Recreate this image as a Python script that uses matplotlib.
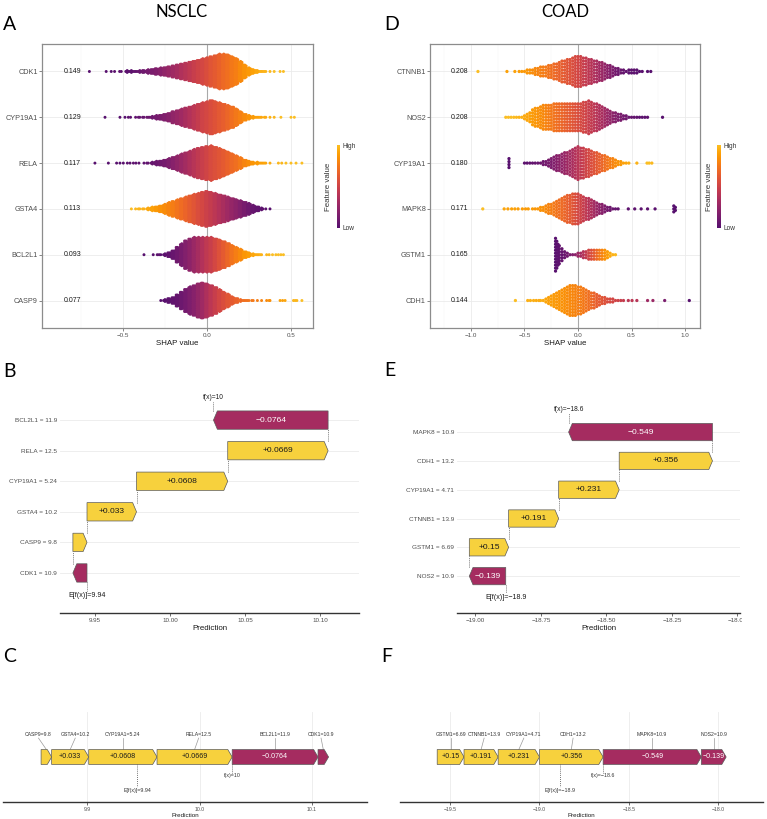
import numpy as np
import matplotlib
matplotlib.use("Agg")
import matplotlib.pyplot as plt
from matplotlib.colors import LinearSegmentedColormap
from matplotlib.patches import Polygon
from matplotlib.transforms import Bbox

plt.rcParams["font.family"] = ["Liberation Sans", "DejaVu Sans"]

# ---------------- beeswarm data ----------------
# per gene: centre of first 0.025-wide SHAP bin, number of samples per bin,
# mean scaled feature value per bin, isolated points as (shap, scaled feature value)
nsclc_genes = ["CDK1", "CYP19A1", "RELA", "GSTA4", "BCL2L1", "CASP9"]
nsclc_imp = ["0.149", "0.129", "0.117", "0.113", "0.093", "0.077"]

cdk1_a = dict(start=-0.475,
              counts=[4, 4, 3, 4, 5, 7, 9, 11, 13, 15, 17, 20, 23, 26, 29, 33, 36, 39, 43, 46, 50, 54,
                      58, 58, 56, 50, 44, 34, 23, 13, 8, 5, 3, 2, 1],
              fv=[0.02, 0.035, 0.05, 0.075, 0.1, 0.125, 0.15, 0.175, 0.2, 0.235, 0.27, 0.3, 0.33, 0.365,
                  0.4, 0.435, 0.47, 0.5, 0.53, 0.565, 0.6, 0.63, 0.66, 0.69, 0.72, 0.75, 0.78, 0.815,
                  0.85, 0.875, 0.9, 0.925, 0.95, 0.965, 0.98],
              out=[(-0.70, 0), (-0.60, 0), (-0.57, 0), (-0.55, 0.02), (-0.52, 0.02), (-0.51, 0.02),
                   (0.40, 1), (0.435, 1), (0.455, 1)])
cyp19a1_a = dict(start=-0.425,
                 counts=[1, 2, 2, 3, 4, 7, 9, 12, 15, 20, 24, 28, 32, 36, 40, 45, 49, 52, 57, 53, 49, 45,
                         40, 36, 29, 20, 12, 7, 4, 3, 2, 2, 1, 1],
                 fv=[0.04, 0.05, 0.06, 0.08, 0.1, 0.125, 0.15, 0.175, 0.2, 0.235, 0.27, 0.305, 0.34, 0.38,
                     0.42, 0.46, 0.5, 0.53, 0.56, 0.59, 0.62, 0.65, 0.68, 0.715, 0.75, 0.785, 0.82, 0.85,
                     0.88, 0.9, 0.92, 0.935, 0.95, 0.97],
                 out=[(-0.607, 0), (-0.518, 0), (-0.488, 0), (-0.468, 0.02), (-0.455, 0.02),
                      (0.44, 1), (0.50, 1), (0.52, 1)])
rela_a = dict(start=-0.375,
              counts=[1, 2, 4, 7, 9, 12, 16, 21, 25, 31, 36, 40, 46, 50, 53, 56, 58, 54, 49, 44, 38, 32,
                      25, 19, 12, 8, 5, 4, 3, 2, 1],
              fv=[0.03, 0.045, 0.06, 0.08, 0.1, 0.13, 0.16, 0.2, 0.24, 0.28, 0.32, 0.36, 0.4, 0.44, 0.48,
                  0.515, 0.55, 0.575, 0.6, 0.63, 0.66, 0.69, 0.72, 0.76, 0.8, 0.83, 0.86, 0.88, 0.9, 0.92, 0.94],
              out=[(-0.667, 0), (-0.587, 0), (-0.538, 0), (-0.518, 0), (-0.498, 0), (-0.474, 0.02),
                   (-0.458, 0.02), (-0.438, 0.02), (-0.423, 0.03), (-0.405, 0.03),
                   (0.425, 0.97), (0.445, 0.97), (0.47, 1), (0.50, 1), (0.53, 1), (0.565, 1)])
gsta4_a = dict(start=-0.45,
               counts=[1, 1, 2, 2, 4, 7, 9, 12, 16, 22, 26, 31, 35, 40, 45, 49, 52, 56, 59, 56, 52, 48,
                       45, 40, 36, 32, 28, 24, 19, 13, 9, 4, 1],
               fv=[0.99, 0.98, 0.965, 0.95, 0.925, 0.9, 0.875, 0.85, 0.825, 0.8, 0.77, 0.74, 0.705, 0.67,
                   0.635, 0.6, 0.565, 0.53, 0.495, 0.46, 0.42, 0.38, 0.34, 0.3, 0.26, 0.22, 0.18, 0.14,
                   0.105, 0.07, 0.05, 0.03, 0.02],
               out=[(0.375, 0)])
bcl2l1_a = dict(start=-0.275,
                counts=[1, 4, 9, 15, 26, 37, 47, 53, 58, 58, 58, 58, 58, 54, 50, 45, 39, 32, 25, 19, 12,
                        8, 4, 3, 2],
                fv=[0.0, 0.02, 0.04, 0.07, 0.1, 0.14, 0.18, 0.23, 0.28, 0.33, 0.38, 0.43, 0.48, 0.53, 0.58,
                    0.63, 0.68, 0.73, 0.78, 0.82, 0.86, 0.89, 0.92, 0.94, 0.96],
                out=[(-0.375, 0), (-0.32, 0), (-0.296, 0.02), (-0.285, 0.02),
                     (0.355, 0.97), (0.37, 0.97), (0.39, 1), (0.41, 1), (0.425, 1), (0.44, 1), (0.455, 1)])
casp9_a = dict(start=-0.275,
               counts=[1, 4, 8, 12, 20, 29, 39, 46, 51, 57, 59, 56, 51, 45, 37, 29, 22, 14, 9, 4, 3, 2, 2, 1, 1],
               fv=[0.0, 0.01, 0.02, 0.04, 0.06, 0.09, 0.12, 0.16, 0.2, 0.25, 0.3, 0.36, 0.42, 0.47, 0.52,
                   0.56, 0.6, 0.63, 0.66, 0.69, 0.72, 0.74, 0.76, 0.78, 0.8],
               out=[(0.355, 0.82), (0.37, 0.84), (0.375, 0.84), (0.435, 0.9), (0.45, 0.9), (0.465, 0.92),
                    (0.515, 0.97), (0.525, 0.97), (0.535, 0.97), (0.565, 1)])
nsclc_swarm = [cdk1_a, cyp19a1_a, rela_a, gsta4_a, bcl2l1_a, casp9_a]

coad_genes = ["CTNNB1", "NOS2", "CYP19A1", "MAPK8", "GSTM1", "CDH1"]
coad_imp = ["0.208", "0.208", "0.180", "0.171", "0.165", "0.144"]

ctnnb1_d = dict(start=-0.55,
                counts=[1, 1, 1, 2, 2, 2, 3, 3, 4, 4, 4, 5, 5, 6, 6, 7, 8, 8, 9, 9, 10, 11, 11, 11, 10, 10,
                        9, 9, 8, 8, 7, 7, 6, 5, 5, 4, 3, 3, 2, 2, 1, 2, 2, 2, 2, 1, 1],
                fv=[0.89, 0.88, 0.87, 0.86, 0.845, 0.83, 0.815, 0.8, 0.785, 0.77, 0.755, 0.74, 0.72, 0.7,
                    0.68, 0.66, 0.64, 0.62, 0.6, 0.58, 0.56, 0.54, 0.52, 0.5, 0.475, 0.45, 0.425, 0.4, 0.37,
                    0.34, 0.31, 0.28, 0.25, 0.22, 0.19, 0.16, 0.13, 0.1, 0.08, 0.06, 0.045, 0.03, 0.025,
                    0.02, 0.015, 0.01, 0.01],
                out=[(-0.935, 1.0), (-0.664, 0.9), (-0.59, 0.9), (0.65, 0), (0.68, 0)])
nos2_d = dict(start=-0.675,
              counts=[1, 1, 1, 1, 1, 1, 1, 2, 3, 4, 6, 7, 7, 8, 9, 9, 9, 9, 10, 10, 10, 10, 10, 10, 10, 10,
                      10, 10, 10, 11, 11, 12, 11, 10, 10, 9, 8, 7, 6, 5, 4, 4, 3, 3, 2, 2, 1, 1, 1, 1, 1, 1, 1, 1],
              fv=[1, 1, 1, 0.99, 0.98, 0.965, 0.95, 0.935, 0.92, 0.9, 0.88, 0.865, 0.85, 0.835, 0.82, 0.8,
                  0.78, 0.76, 0.74, 0.72, 0.7, 0.68, 0.66, 0.64, 0.62, 0.6, 0.58, 0.56, 0.54, 0.52, 0.5,
                  0.475, 0.45, 0.425, 0.4, 0.37, 0.34, 0.31, 0.28, 0.25, 0.22, 0.195, 0.17, 0.145, 0.12,
                  0.1, 0.08, 0.065, 0.05, 0.04, 0.03, 0.025, 0.02, 0.02],
              out=[(0.79, 0)])
cyp19a1_d = dict(start=-0.475,
                 counts=[1, 1, 1, 1, 1, 1, 2, 2, 3, 4, 5, 6, 6, 7, 8, 8, 9, 10, 11, 12, 11, 11, 10, 10, 9,
                         8, 8, 7, 6, 6, 5, 4, 4, 3, 2, 2, 1, 1, 1],
                 fv=[0.03, 0.04, 0.05, 0.06, 0.07, 0.085, 0.1, 0.12, 0.14, 0.16, 0.18, 0.2, 0.22, 0.245,
                     0.27, 0.295, 0.32, 0.35, 0.38, 0.41, 0.44, 0.47, 0.5, 0.53, 0.56, 0.59, 0.62, 0.65,
                     0.68, 0.71, 0.74, 0.77, 0.8, 0.825, 0.85, 0.875, 0.9, 0.92, 0.94],
                 out=[(-0.645, 0)] * 4 + [(-0.5, 0.02), (0.55, 0.96), (0.645, 1), (0.665, 1), (0.69, 0.98)])
mapk8_d = dict(start=-0.425,
               counts=[1, 1, 1, 2, 2, 3, 4, 4, 5, 6, 7, 8, 9, 10, 10, 11, 11, 11, 10, 9, 8, 8, 7, 6, 5,
                       4, 4, 3, 2, 2, 1, 1, 1],
               fv=[0.88, 0.87, 0.86, 0.85, 0.84, 0.82, 0.8, 0.78, 0.76, 0.74, 0.72, 0.7, 0.68, 0.655, 0.63,
                   0.6, 0.57, 0.535, 0.5, 0.465, 0.43, 0.395, 0.36, 0.32, 0.28, 0.24, 0.2, 0.165, 0.13,
                   0.105, 0.08, 0.065, 0.05],
               out=[(-0.89, 1.0), (-0.69, 0.92), (-0.655, 0.9), (-0.62, 0.9), (-0.59, 0.9), (-0.56, 0.89),
                    (-0.52, 0.88), (-0.49, 0.88), (-0.465, 0.88), (0.47, 0.03), (0.53, 0.03), (0.59, 0.02),
                    (0.65, 0.02), (0.72, 0.01)] + [(0.895, 0)] * 3 + [(0.91, 0)] * 2)
gstm1_d = dict(start=-0.175,
               counts=[7, 5, 3, 2, 1, 1, 1, 2, 2, 3, 3, 4, 4, 4, 4, 4, 4, 4, 3, 2, 1, 1],
               fv=[0.04, 0.06, 0.08, 0.11, 0.14, 0.18, 0.23, 0.28, 0.33, 0.39, 0.45, 0.51, 0.57, 0.63,
                   0.69, 0.75, 0.8, 0.85, 0.89, 0.93, 0.96, 0.98],
               out=[(-0.21, 0)] * 12 + [(-0.198, 0.01)] * 10 + [(-0.187, 0.02)] * 8)
cdh1_d = dict(start=-0.35,
              counts=[1, 1, 2, 3, 4, 5, 6, 7, 8, 9, 10, 11, 11, 11, 10, 10, 9, 8, 7, 6, 6, 5, 4, 3, 3,
                      2, 2, 2, 1, 1, 1, 1],
              fv=[0.95, 0.94, 0.92, 0.9, 0.89, 0.88, 0.87, 0.86, 0.85, 0.84, 0.83, 0.82, 0.81, 0.8, 0.785,
                  0.77, 0.755, 0.74, 0.72, 0.7, 0.675, 0.65, 0.625, 0.6, 0.58, 0.56, 0.54, 0.52, 0.51,
                  0.5, 0.48, 0.46],
              out=[(-0.585, 1.0), (-0.47, 0.95), (-0.445, 0.95), (-0.415, 0.95), (-0.39, 0.94), (-0.365, 0.94),
                   (0.47, 0.42), (0.505, 0.42), (0.55, 0.4), (0.65, 0.3), (0.70, 0.28), (0.81, 0.15), (1.04, 0.0)])
coad_swarm = [ctnnb1_d, nos2_d, cyp19a1_d, mapk8_d, gstm1_d, cdh1_d]

# ---------------- waterfall / force data (bottom-to-top order) ----------------
nsclc_wf_genes = ["CDK1", "CASP9", "GSTA4", "CYP19A1", "RELA", "BCL2L1"]
nsclc_wf_vals = ["10.9", "9.8", "10.2", "5.24", "12.5", "11.9"]
nsclc_wf_shap = [-0.0094, 0.0094, 0.033, 0.0608, 0.0669, -0.0764]
nsclc_base = 9.9447
nsclc_force_nudge = [-0.002, -0.007, 0.0045, 0.0, 0.0036, 0.0]

coad_wf_genes = ["NOS2", "GSTM1", "CTNNB1", "CYP19A1", "CDH1", "MAPK8"]
coad_wf_vals = ["10.9", "6.69", "13.9", "4.71", "13.2", "10.9"]
coad_wf_shap = [-0.139, 0.15, 0.191, 0.231, 0.356, -0.549]
coad_base = -18.884
coad_force_nudge = [0.0, 0.0, 0.017, 0.028, 0.01, 0.0]

POS, NEG = "#f7d13d", "#a52c60"
shap_cmap = LinearSegmentedColormap.from_list("shp", plt.cm.inferno(np.linspace(0.25, 0.85, 256)))

W, H = 767, 819
fig = plt.figure(figsize=(W / 100, H / 100), dpi=100)


def add_ax(l, t, r, b):
    return fig.add_axes([l / W, 1 - b / H, (r - l) / W, (b - t) / H])


def fig_text(x, y, s, **kw):
    fig.text(x / W, 1 - y / H, s, **kw)


def mfmt(s):
    return s.replace("-", "\u2212")


def beeswarm(ax, genes, imp, swarm, xlim, major, minor, imp_x, binw, ncol, dy, size):
    order = sorted(range(ncol), key=lambda c: abs(c - (ncol - 1) / 2))
    for r, g in enumerate(swarm, start=1):
        xs, ys, fv = [], [], []
        for i, (n, f) in enumerate(zip(g["counts"], g["fv"])):
            c = g["start"] + i * binw
            per = [0] * ncol
            for j in range(n):
                per[order[j % ncol]] += 1
            for col, k in enumerate(per):
                off = (np.arange(k) - (k - 1) / 2) * dy
                xs += [c - binw / 2 + (col + 0.5) * binw / ncol] * k
                ys += list(r + off)
                fv += [f] * k
        stacks = {}
        for x, f in g["out"]:
            stacks.setdefault(x, []).append(f)
        for x, fl in stacks.items():
            k = len(fl)
            xs += [x] * k
            ys += list(r + (np.arange(k) - (k - 1) / 2) * dy)
            fv += fl
        ax.scatter(xs, ys, c=fv, cmap=shap_cmap, vmin=0, vmax=1, s=size, linewidths=0, zorder=3)
        ax.text(imp_x, r, imp[r - 1], ha="center", va="center", fontsize=5, color="#1A1A1A", zorder=4)
    ax.set_xlim(xlim)
    ax.set_ylim(6.6, 0.4)
    ax.set_yticks(range(1, 7))
    ax.set_yticklabels(genes)
    ax.set_xticks(major)
    ax.set_xticks(minor, minor=True)
    ax.set_axisbelow(True)
    ax.grid(which="major", color="#EBEBEB", lw=0.6)
    ax.grid(which="minor", axis="x", color="#F3F3F3", lw=0.35)
    ax.axvline(0, color="#A9A9A9", lw=0.8, zorder=1)
    ax.tick_params(axis="y", labelsize=5.2, labelcolor="#4D4D4D", length=2, width=0.5, color="#555555", pad=1)
    ax.tick_params(axis="x", labelsize=4.5, labelcolor="#4D4D4D", length=2, width=0.5, color="#555555", pad=1.5)
    ax.tick_params(which="minor", length=0)
    for sp in ax.spines.values():
        sp.set_color("#8C8C8C")
        sp.set_linewidth(0.9)
    ax.set_xlabel("SHAP value", fontsize=5.7, labelpad=1.5, color="#1A1A1A")


def colorbar(l):
    cax = add_ax(l, 145, l + 3.5, 228)
    sm = matplotlib.cm.ScalarMappable(cmap=shap_cmap)
    cb = fig.colorbar(sm, cax=cax)
    cb.outline.set_visible(False)
    cb.set_ticks([0, 1])
    cb.set_ticklabels(["Low", "High"])
    cax.tick_params(length=0, labelsize=4.7, labelcolor="#333333", pad=2)
    cb.set_label("Feature value", fontsize=5.7, color="#333333", labelpad=3)
    cax.yaxis.set_label_position("left")


def arrow_poly(x0, x1, y, h, head):
    d = x1 - x0
    hl = min(head, abs(d))
    s = 1 if d >= 0 else -1
    xb = x1 - s * hl
    return [(x0, y - h / 2), (xb, y - h / 2), (x1, y), (xb, y + h / 2), (x0, y + h / 2)]


def bar_label(v):
    return mfmt(f"{v:+.3g}")


def waterfall(ax, genes, vals, shap, base, xlim, ylim, xticks, tickfmt, top_y, bot_y):
    ax.set_xlim(xlim)
    ax.set_ylim(ylim)
    span = xlim[1] - xlim[0]
    head = 0.013 * span
    cum = base + np.concatenate([[0], np.cumsum(shap)])
    n = len(shap)
    for r in range(n):
        ax.axhline(r, color="#EBEBEB", lw=0.6, zorder=0)
    dot = dict(color="#444444", lw=0.6, ls=(0, (1, 1.5)), zorder=1)
    for i, v in enumerate(shap):
        ax.add_patch(Polygon(arrow_poly(cum[i], cum[i + 1], i, 0.6, head), closed=True,
                             fc=POS if v > 0 else NEG, ec="#5A5A5A", lw=0.5, zorder=2))
        if abs(v) / span > 0.05:
            ax.text((cum[i] + cum[i + 1]) / 2, i, bar_label(v), ha="center", va="center", fontsize=6.1,
                    color="#1A1A1A" if v > 0 else "white", zorder=3)
        if i < n - 1:
            ax.plot([cum[i + 1]] * 2, [i + 0.3, i + 0.7], **dot)
    ax.plot([cum[-1]] * 2, [n - 1 + 0.3, top_y - 0.15], **dot)
    ax.plot([cum[0]] * 2, [-0.3, bot_y + 0.15], **dot)
    ax.text(cum[-1], top_y, mfmt(f"f(x)={cum[-1]:.3g}"), ha="center", va="center", fontsize=4.8, color="#1A1A1A")
    ax.text(cum[0], bot_y, mfmt(f"E[f(x)]={cum[0]:.3g}"), ha="center", va="center", fontsize=5.1, color="#1A1A1A")
    ax.set_yticks(range(n))
    ax.set_yticklabels([f"{g} = {v}" for g, v in zip(genes, vals)])
    ax.set_xticks(xticks)
    ax.set_xticklabels([mfmt(tickfmt.format(t)) for t in xticks])
    for k in ["top", "right", "left"]:
        ax.spines[k].set_visible(False)
    ax.spines["bottom"].set_color("#333333")
    ax.spines["bottom"].set_linewidth(1.0)
    ax.tick_params(axis="y", length=0, labelsize=4.6, labelcolor="#4D4D4D", pad=2)
    ax.tick_params(axis="x", length=2, width=0.5, color="#333333", labelsize=4.5, labelcolor="#4D4D4D", pad=1.5)
    ax.set_xlabel("Prediction", fontsize=5.7, labelpad=1.5, color="#1A1A1A")


def force(ax, genes, vals, shap, base, xlim, xticks, tickfmt, nudge):
    ax.set_xlim(xlim)
    ax.set_ylim(0, 1)
    span = xlim[1] - xlim[0]
    head = 0.012 * span
    f = base + sum(shap)
    pos = sorted([i for i in range(len(shap)) if shap[i] > 0], key=lambda i: shap[i])
    neg = sorted([i for i in range(len(shap)) if shap[i] < 0], key=lambda i: shap[i])
    yc, h = 0.5, 0.166
    segs = {}
    x = f - sum(shap[i] for i in pos)
    for i in pos:
        segs[i] = (x, x + shap[i])
        x += shap[i]
    x = f
    for i in neg:
        segs[i] = (x - shap[i], x)
        x -= shap[i]
    for t in xticks:
        ax.axvline(t, color="#EBEBEB", lw=0.6, zorder=0)
    for i, (a, b) in segs.items():
        v = shap[i]
        pts = arrow_poly(a, b, yc, h, head) if v > 0 else arrow_poly(b, a, yc, h, head)
        ax.add_patch(Polygon(pts, closed=True, fc=POS if v > 0 else NEG, ec="#5A5A5A", lw=0.5, zorder=2))
        mid = (a + b) / 2
        if abs(v) / span > 0.05:
            ax.text(mid, yc, bar_label(v), ha="center", va="center", fontsize=5.1,
                    color="#1A1A1A" if v > 0 else "white", zorder=3)
        lx = mid + nudge[i]
        ax.plot([mid, lx], [yc + h / 2, 0.71], color="#9A9A9A", lw=0.5, zorder=1)
        ax.text(lx, 0.745, f"{genes[i]}={vals[i]}", ha="center", va="center", fontsize=3.7, color="#333333")
    dot = dict(color="#444444", lw=0.6, ls=(0, (1, 1.5)), zorder=1)
    ax.plot([base, base], [yc - h / 2, 0.165], **dot)
    ax.text(base, 0.133, mfmt(f"E[f(x)]={base:.3g}"), ha="center", va="center", fontsize=3.8, color="#333333")
    ax.plot([f, f], [yc - h / 2, 0.32], **dot)
    ax.text(f, 0.29, mfmt(f"f(x)={f:.3g}"), ha="center", va="center", fontsize=3.8, color="#333333")
    ax.set_yticks([])
    ax.set_xticks(xticks)
    ax.set_xticklabels([mfmt(tickfmt.format(t)) for t in xticks])
    for k in ["top", "right", "left"]:
        ax.spines[k].set_visible(False)
    ax.spines["bottom"].set_color("#333333")
    ax.spines["bottom"].set_linewidth(1.0)
    ax.tick_params(axis="x", length=2, width=0.5, color="#333333", labelsize=3.7, labelcolor="#4D4D4D", pad=1.5)
    ax.set_xlabel("Prediction", fontsize=4.5, labelpad=1, color="#1A1A1A")


# titles and panel letters
title_kw = dict(family=["Lato", "DejaVu Sans"], color="black", va="center")
fig_text(182, 12, "NSCLC", ha="center", fontsize=12, **title_kw)
fig_text(565, 12, "COAD", ha="center", fontsize=12, **title_kw)
for (x, y, s) in [(3, 25, "A"), (384, 25, "D"), (3, 372, "B"), (384, 371, "E"), (3, 657, "C"), (381, 657, "F")]:
    fig_text(x, y, s, ha="left", fontsize=14, **title_kw)

# A / D
ax_a = add_ax(42, 44, 313, 328)
beeswarm(ax_a, nsclc_genes, nsclc_imp, nsclc_swarm, (-0.982, 0.631), [-0.5, 0, 0.5],
         [-0.75, -0.25, 0.25], -0.80, 0.025, 3, 0.04, 4.5)
colorbar(336.5)
ax_d = add_ax(430, 44, 700, 328)
beeswarm(ax_d, coad_genes, coad_imp, coad_swarm, (-1.383, 1.14), [-1.0, -0.5, 0, 0.5, 1.0],
         [-1.25, -0.75, -0.25, 0.25, 0.75], -1.11, 0.025, 1, 0.065, 5.5)
colorbar(717)

# B / E
ax_b = add_ax(60, 388, 359, 613)
waterfall(ax_b, nsclc_wf_genes, nsclc_wf_vals, nsclc_wf_shap, nsclc_base, (9.9267, 10.126), (-1.31, 6.05),
          [9.95, 10.0, 10.05, 10.1], "{:.2f}", 5.75, -0.75)
ax_e = add_ax(457, 388, 740, 613)
waterfall(ax_e, coad_wf_genes, coad_wf_vals, coad_wf_shap, coad_base, (-19.07, -17.99), (-1.28, 6.53),
          [-19.0, -18.75, -18.5, -18.25, -18.0], "{:.2f}", 5.8, -0.73)
# the source figure was cropped through the last tick label of panel E
last = ax_e.xaxis.get_major_ticks()[-1].label1
last.set_clip_box(Bbox([[0, 0], [742, H]]))
last.set_clip_on(True)

# C / F
ax_c = add_ax(3, 712, 367, 802)
force(ax_c, nsclc_wf_genes, nsclc_wf_vals, nsclc_wf_shap, nsclc_base, (9.825, 10.149),
      [9.9, 10.0, 10.1], "{:.1f}", nsclc_force_nudge)
ax_f = add_ax(400, 712, 763, 802)
force(ax_f, coad_wf_genes, coad_wf_vals, coad_wf_shap, coad_base, (-19.78, -17.75),
      [-19.5, -19.0, -18.5, -18.0], "{:.1f}", coad_force_nudge)

fig.savefig("out.png", dpi=100)
